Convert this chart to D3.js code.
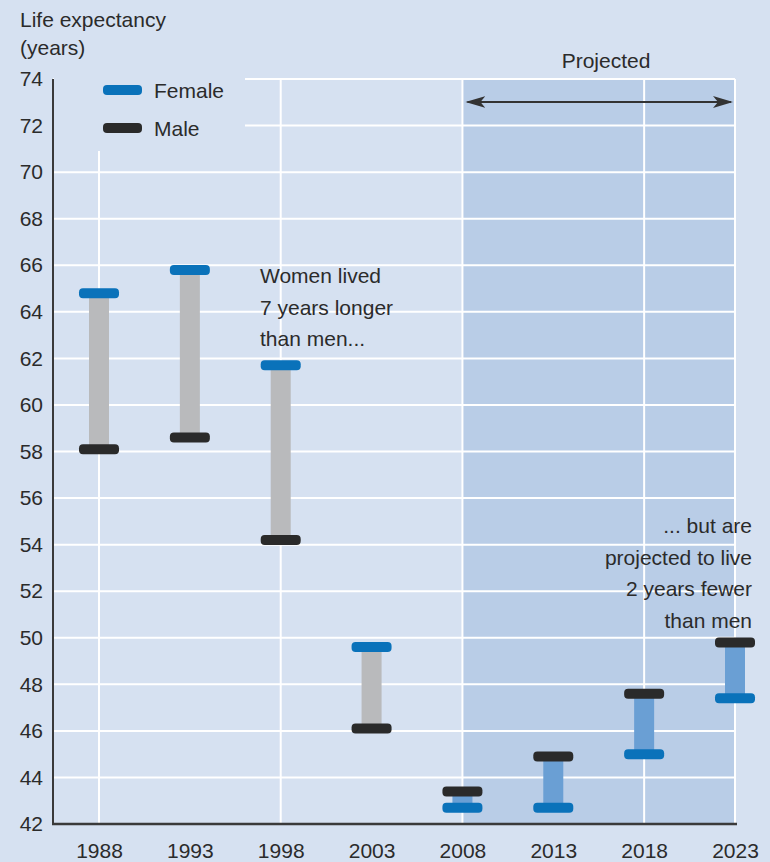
<!DOCTYPE html>
<html>
<head>
<meta charset="utf-8">
<script src="https://cdn.jsdelivr.net/npm/d3@7"></script>
<style>
  body { margin: 0; background: #d6e1f1; }
  text { font-family: "Liberation Sans", Arial, sans-serif; fill: #2b2b2b; }
</style>
</head>
<body>
<div id="container"></div>
<script>
// values
const years = [1988, 1993, 1998, 2003, 2008, 2013, 2018, 2023];
const female = [64.8, 65.8, 61.7, 49.6, 42.7, 42.7, 45.0, 47.4];
const male = [58.1, 58.6, 54.2, 46.1, 43.4, 44.9, 47.6, 49.8];
const yTicks = [42, 44, 46, 48, 50, 52, 54, 56, 58, 60, 62, 64, 66, 68, 70, 72, 74];
const gridYears = [1988, 1998, 2008, 2018, 2023];
const projectedFrom = 2008;
const noteLeft = ["Women lived", "7 years longer", "than men..."];
const noteRight = ["... but are", "projected to live", "2 years fewer", "than men"];

const width = 770;
const height = 862;
const axisX = 53;
const fontSize = 21;

const bg = "#d6e1f1";
const shade = "#b9cde7";
const femaleColor = "#0a72ba";
const maleColor = "#2a2a2a";

const x = d3.scaleLinear()
    .domain([1988, 2023])
    .range([99, 735]);

const y = d3.scaleLinear()
    .domain([42, 74])
    .range([824, 79]);

const svg = d3.select("#container")
    .append("svg")
    .attr("width", width)
    .attr("height", height);

svg.append("rect")
    .attr("width", width)
    .attr("height", height)
    .attr("fill", bg);

// shaded projection area
svg.append("rect")
    .attr("x", x(projectedFrom))
    .attr("y", y(74))
    .attr("width", x(2023) - x(projectedFrom))
    .attr("height", y(42) - y(74))
    .attr("fill", shade);

// horizontal grid
svg.append("g")
    .selectAll("line")
    .data(yTicks)
    .join("line")
    .attr("x1", axisX)
    .attr("x2", x(2023))
    .attr("y1", d => y(d))
    .attr("y2", d => y(d))
    .attr("stroke", "#fff")
    .attr("stroke-width", 2);

// vertical grid
svg.append("g")
    .selectAll("line")
    .data(gridYears)
    .join("line")
    .attr("x1", d => x(d))
    .attr("x2", d => x(d))
    .attr("y1", y(74))
    .attr("y2", y(42))
    .attr("stroke", "#fff")
    .attr("stroke-width", 2);

// legend sits on a patch of plain background
svg.append("rect")
    .attr("x", axisX + 1)
    .attr("y", y(74) - 4)
    .attr("width", 191)
    .attr("height", 76)
    .attr("fill", bg);

const legend = [
    { label: "Female", color: femaleColor, cy: 90 },
    { label: "Male", color: maleColor, cy: 128 }
];
legend.forEach(d => {
    svg.append("rect")
        .attr("x", 103)
        .attr("y", d.cy - 5)
        .attr("width", 39)
        .attr("height", 10)
        .attr("rx", 4)
        .attr("fill", d.color);
    svg.append("text")
        .attr("x", 154)
        .attr("y", d.cy + 8)
        .attr("font-size", fontSize)
        .text(d.label);
});

// y axis
const yAxis = svg.append("g")
    .attr("transform", `translate(${axisX},0)`)
    .call(d3.axisLeft(y).tickValues(yTicks).tickSize(0).tickPadding(10));
yAxis.select(".domain").remove();
yAxis.selectAll("text")
    .attr("font-size", fontSize)
    .attr("font-family", null)
    .attr("fill", "#2b2b2b");

// x axis
const xAxis = svg.append("g")
    .attr("transform", `translate(0,${y(42)})`)
    .call(d3.axisBottom(x).tickValues(years).tickFormat(d3.format("d")).tickSize(0).tickPadding(19));
xAxis.select(".domain").remove();
xAxis.selectAll("text")
    .attr("font-size", fontSize)
    .attr("font-family", null)
    .attr("fill", "#2b2b2b");

svg.append("line")
    .attr("x1", axisX)
    .attr("x2", axisX)
    .attr("y1", y(74))
    .attr("y2", y(42) + 1)
    .attr("stroke", "#3a3a3a")
    .attr("stroke-width", 2);

svg.append("line")
    .attr("x1", axisX - 1)
    .attr("x2", x(2023) + 2)
    .attr("y1", y(42))
    .attr("y2", y(42))
    .attr("stroke", "#3a3a3a")
    .attr("stroke-width", 2.5);

// gap bars between female and male
years.forEach((yr, i) => {
    const top = Math.max(female[i], male[i]);
    const bottom = Math.min(female[i], male[i]);
    svg.append("rect")
        .attr("x", x(yr) - 10)
        .attr("y", y(top))
        .attr("width", 20)
        .attr("height", y(bottom) - y(top))
        .attr("fill", yr >= projectedFrom ? "#6a9fd4" : "#b9babc");
});

// caps
[[female, femaleColor], [male, maleColor]].forEach(([vals, color]) => {
    years.forEach((yr, i) => {
        svg.append("rect")
            .attr("x", x(yr) - 20)
            .attr("y", y(vals[i]) - 5)
            .attr("width", 40)
            .attr("height", 10)
            .attr("rx", 4)
            .attr("fill", color);
    });
});

// projected arrow
const defs = svg.append("defs");
defs.append("marker")
    .attr("id", "head")
    .attr("viewBox", "0 0 20 12")
    .attr("refX", 18)
    .attr("refY", 6)
    .attr("markerWidth", 20)
    .attr("markerHeight", 12)
    .attr("markerUnits", "userSpaceOnUse")
    .attr("orient", "auto-start-reverse")
    .append("path")
    .attr("d", "M0,0 L20,6 L0,12 L5,6 Z")
    .attr("fill", "#333");

svg.append("line")
    .attr("x1", x(projectedFrom) + 5)
    .attr("x2", x(2023) - 4)
    .attr("y1", 102)
    .attr("y2", 102)
    .attr("stroke", "#333")
    .attr("stroke-width", 2)
    .attr("marker-start", "url(#head)")
    .attr("marker-end", "url(#head)");

svg.append("text")
    .attr("x", 606)
    .attr("y", 68)
    .attr("text-anchor", "middle")
    .attr("font-size", fontSize)
    .text("Projected");

// axis title
svg.append("text")
    .attr("x", 20)
    .attr("y", 27)
    .attr("font-size", fontSize)
    .text("Life expectancy");
svg.append("text")
    .attr("x", 20)
    .attr("y", 55)
    .attr("font-size", fontSize)
    .text("(years)");

// notes
noteLeft.forEach((t, i) => {
    svg.append("text")
        .attr("x", 260)
        .attr("y", 283 + i * 31.5)
        .attr("font-size", fontSize)
        .text(t);
});
noteRight.forEach((t, i) => {
    svg.append("text")
        .attr("x", 752)
        .attr("y", 533 + i * 31.5)
        .attr("text-anchor", "end")
        .attr("font-size", fontSize)
        .text(t);
});
</script>
</body>
</html>
